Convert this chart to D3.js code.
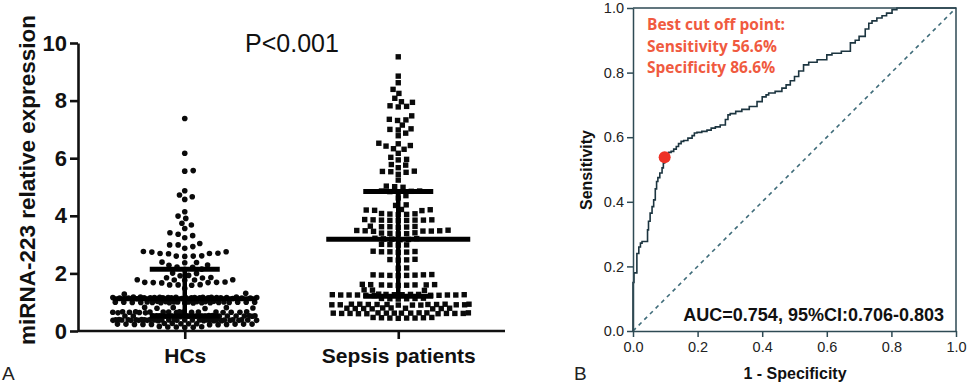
<!DOCTYPE html>
<html>
<head>
<meta charset="utf-8">
<script src="https://cdn.jsdelivr.net/npm/d3@7"></script>
<style>
  body { margin: 0; background: #fff; }
  svg { display: block; font-family: "Liberation Sans", Arial, sans-serif; }
</style>
</head>
<body>
<div id="root"></div>
<script>
// ---- panel A data ----
const groups = ["HCs", "Sepsis patients"];
const yTicks = [0, 2, 4, 6, 8, 10];

const hcValues = [
  7.38, 6.17, 5.57, 5.55, 4.87, 4.72, 4.66, 4.57, 4.14, 3.99, 3.91, 3.74, 3.68, 3.56,
  3.41, 3.36, 3.31, 3.24, 3.04, 2.99, 2.93, 2.99, 2.87,
  2.75, 2.76, 2.74, 2.69, 2.70, 2.68, 2.69, 2.60, 2.61, 2.59, 2.60,
  2.38, 2.39, 2.37, 2.29, 2.28, 2.21, 2.22, 2.14, 2.15, 2.00, 2.01, 1.92, 1.93, 1.85, 1.86, 1.84,
  1.77, 1.78, 1.76, 1.77, 1.78, 1.68, 1.69, 1.67, 1.68, 1.70, 1.69, 1.60, 1.61, 1.59, 1.60,
  1.48, 1.31, 1.28,
  1.16, 1.15, 1.17, 1.14, 1.16, 1.15, 1.18, 1.13, 1.16, 1.15, 1.17, 1.14, 1.16, 1.15, 1.12,
  1.18, 1.16, 1.15, 1.17, 1.14, 1.16, 1.15, 1.13, 1.17, 1.16, 1.15, 1.14, 1.18, 1.15, 1.16,
  1.01, 0.99, 1.02, 0.98, 1.00, 1.01, 0.97, 1.03, 0.99, 1.00, 1.02, 0.98, 1.01,
  0.99, 1.00, 1.02, 0.98, 1.01, 0.97, 1.00, 0.99, 1.03, 1.01, 0.98, 1.00, 0.99,
  0.81, 0.79, 0.82, 0.80, 0.78, 0.81,
  0.66, 0.65, 0.67, 0.64, 0.66, 0.65, 0.63, 0.67, 0.66, 0.64,
  0.65, 0.66, 0.67, 0.64, 0.65, 0.66, 0.63, 0.65, 0.67, 0.66,
  0.53, 0.52, 0.51, 0.53, 0.52, 0.54, 0.51, 0.52, 0.53, 0.52, 0.50,
  0.53, 0.52, 0.51, 0.54, 0.52, 0.53, 0.51, 0.52, 0.53, 0.52, 0.51,
  0.38, 0.37, 0.39, 0.36, 0.38, 0.40, 0.37, 0.38, 0.39, 0.36, 0.38, 0.37,
  0.39, 0.38, 0.40, 0.37, 0.38, 0.36, 0.39, 0.38, 0.37, 0.40, 0.38, 0.39,
  0.37, 0.38, 0.36, 0.39, 0.38, 0.37, 0.40, 0.38, 0.39, 0.37,
  0.24, 0.23, 0.25, 0.22, 0.24, 0.26, 0.23, 0.24, 0.25, 0.22, 0.24, 0.23, 0.25, 0.24, 0.26, 0.23,
  0.14, 0.13, 0.15, 0.12, 0.14, 0.16
];

const sepsisValues = [
  9.52, 8.85, 8.62, 8.39, 8.25, 8.08, 7.94, 7.96, 7.80, 7.82, 7.78,
  7.47, 7.33, 7.35, 7.31, 7.15, 7.00, 7.02, 6.98, 6.87, 6.78,
  6.52, 6.50, 6.42, 6.44, 6.31, 6.33, 6.17, 6.03, 5.94, 5.96,
  5.76, 5.78, 5.67, 5.53, 5.55, 5.51, 5.54, 5.44, 5.24,
  5.01, 5.03, 4.99, 4.86, 4.84, 4.85, 4.83, 4.86, 4.70, 4.62, 4.38, 4.36,
  4.20, 4.21, 4.19, 4.22, 4.18, 4.06, 4.07, 4.05, 4.08, 4.04,
  3.85, 3.86, 3.84, 3.87, 3.83, 3.85, 3.86, 3.84, 3.85,
  3.62, 3.63, 3.61, 3.64, 3.60, 3.62,
  3.48, 3.49, 3.47, 3.50, 3.46, 3.48, 3.47, 3.39, 3.40, 3.38, 3.41, 3.37,
  3.20, 3.18, 3.21, 3.19, 3.22, 3.17,
  2.99, 3.00, 2.98, 3.01, 2.75, 2.76, 2.74, 2.77, 2.73, 2.75,
  2.47, 2.48, 2.46, 2.49, 2.18, 2.19,
  1.94, 1.95, 1.93, 1.96, 1.92, 1.94, 1.95, 1.93,
  1.60, 1.61, 1.59, 1.62, 1.58, 1.60, 1.61, 1.59, 1.60,
  1.42, 1.43, 1.41,
  1.26, 1.25, 1.27, 1.24, 1.26, 1.25, 1.28, 1.23, 1.26, 1.25, 1.27, 1.24, 1.26, 1.25, 1.27, 1.24, 1.25,
  1.12, 1.13, 1.11, 1.14, 1.12, 1.13,
  0.92, 0.91, 0.93, 0.90, 0.92, 0.91, 0.93, 0.90, 0.92, 0.91, 0.93, 0.90, 0.92, 0.91, 0.93, 0.92,
  0.79, 0.78, 0.80, 0.77, 0.79, 0.78, 0.80, 0.77, 0.79, 0.78,
  0.62, 0.61, 0.63, 0.60, 0.62, 0.61, 0.63, 0.60, 0.62, 0.61, 0.63, 0.60, 0.62, 0.61, 0.63, 0.62, 0.61,
  0.46, 0.45, 0.47, 0.44, 0.46, 0.45, 0.47, 0.45
];

// median and interquartile range per group
const medians = [1.12, 3.19];
const q1s = [0.52, 1.21];
const q3s = [2.14, 4.84];

// ---- panel B data ----
const rocTicks = [0, 0.2, 0.4, 0.6, 0.8, 1.0];
const rocCurve = [
  [0, 0], [0, 0.065], [0.003, 0.15], [0.006, 0.18], [0.012, 0.18], [0.012, 0.21], [0.018, 0.24],
  [0.023, 0.26], [0.028, 0.272], [0.031, 0.277], [0.045, 0.277], [0.045, 0.3], [0.048, 0.313],
  [0.053, 0.34], [0.059, 0.365], [0.064, 0.385], [0.069, 0.406], [0.073, 0.44], [0.077, 0.463],
  [0.083, 0.475], [0.09, 0.489], [0.094, 0.505], [0.098, 0.52], [0.103, 0.54], [0.11, 0.548],
  [0.118, 0.553], [0.126, 0.556], [0.134, 0.563], [0.141, 0.571], [0.149, 0.58], [0.157, 0.587],
  [0.17, 0.59], [0.183, 0.597], [0.19, 0.605], [0.198, 0.613], [0.213, 0.615], [0.229, 0.618],
  [0.242, 0.622], [0.255, 0.628], [0.27, 0.632], [0.286, 0.638], [0.294, 0.655], [0.301, 0.669],
  [0.318, 0.673], [0.337, 0.68], [0.36, 0.686], [0.384, 0.695], [0.4, 0.71], [0.412, 0.725],
  [0.42, 0.731], [0.44, 0.737], [0.461, 0.742], [0.474, 0.752], [0.487, 0.762], [0.5, 0.775],
  [0.513, 0.788], [0.528, 0.805], [0.544, 0.824], [0.57, 0.832], [0.6, 0.84], [0.616, 0.855],
  [0.645, 0.86], [0.673, 0.866], [0.688, 0.892], [0.7, 0.9], [0.719, 0.912], [0.73, 0.935],
  [0.74, 0.953], [0.755, 0.96], [0.771, 0.969], [0.785, 0.976], [0.802, 0.984], [0.817, 0.995],
  [0.838, 1.0], [1.0, 1.0]
];
const cutPoint = [0.098, 0.538];
const cutLines = ["Best cut off point:", "Sensitivity 56.6%", "Specificity 86.6%"];

const svg = d3.select("#root").append("svg")
  .attr("width", 967)
  .attr("height", 385);

svg.append("rect").attr("width", 967).attr("height", 385).attr("fill", "#fff");

// ================= panel A =================
const x = d3.scalePoint().domain(groups).range([78, 505]).padding(0.5);
const y = d3.scaleLinear().domain([0, 10]).range([331, 43]);

// simple column-scatter layout: place each point at the smallest offset free of overlap
function swarm(values, dx0, dy0, half) {
  const pts = values.map(v => ({v: v, y: y(v)})).sort((a, b) => a.v - b.v);
  const placed = [];
  pts.forEach(p => {
    let d = dx0, px = null;
    while (px === null) {
      const near = placed.filter(q => Math.abs(q.y - p.y) < dy0);
      const cands = [0];
      near.forEach(q => {
        const off = d * Math.sqrt(1 - Math.pow((q.y - p.y) / dy0, 2));
        cands.push(q.x + off, q.x - off);
      });
      cands.sort((a, b) => Math.abs(a) - Math.abs(b));
      for (const c of cands) {
        if (Math.abs(c) > half + 0.01) continue;
        const ok = near.every(q => Math.pow((q.x - c) / d, 2) + Math.pow((q.y - p.y) / dy0, 2) >= 0.999);
        if (ok) { px = c; break; }
      }
      d *= 0.85;
    }
    p.x = px;
    placed.push(p);
  });
  return pts;
}

const gA = svg.append("g");

const hcPts = swarm(hcValues, 8.5, 5.5, 72);
const sepPts = swarm(sepsisValues, 8.4, 5.6, 71);

gA.selectAll(".hc")
  .data(hcPts)
  .enter().append("circle")
    .attr("class", "hc")
    .attr("cx", d => x("HCs") + d.x)
    .attr("cy", d => d.y)
    .attr("r", 2.8)
    .attr("fill", "#0a0a0a");

gA.selectAll(".sep")
  .data(sepPts)
  .enter().append("rect")
    .attr("class", "sep")
    .attr("x", d => x("Sepsis patients") + d.x - 2.7)
    .attr("y", d => d.y - 2.7)
    .attr("width", 5.4)
    .attr("height", 5.4)
    .attr("fill", "#0a0a0a");

// median with interquartile range
groups.forEach((g, i) => {
  const cx = x(g);
  gA.append("line")
    .attr("x1", cx).attr("x2", cx)
    .attr("y1", y(q1s[i])).attr("y2", y(q3s[i]))
    .attr("stroke", "#000").attr("stroke-width", 4.5);
  gA.append("line")
    .attr("x1", cx - 72).attr("x2", cx + 72)
    .attr("y1", y(medians[i])).attr("y2", y(medians[i]))
    .attr("stroke", "#000").attr("stroke-width", 5);
  [q1s[i], q3s[i]].forEach(v => {
    gA.append("line")
      .attr("x1", cx - 35).attr("x2", cx + 35)
      .attr("y1", y(v)).attr("y2", y(v))
      .attr("stroke", "#000").attr("stroke-width", 5);
  });
});

const axA = gA.append("g")
  .attr("transform", "translate(78,0)")
  .call(d3.axisLeft(y).tickValues(yTicks).tickSize(8).tickSizeOuter(0).tickPadding(3));

const axB = gA.append("g")
  .attr("transform", "translate(0,331)")
  .call(d3.axisBottom(x).tickSize(8).tickSizeOuter(0).tickPadding(9));

[axA, axB].forEach(a => {
  a.attr("font-family", "'Liberation Sans', Arial, sans-serif").attr("font-weight", "bold");
  a.select(".domain").attr("stroke", "#111").attr("stroke-width", 2.6);
  a.selectAll(".tick line").attr("stroke", "#111").attr("stroke-width", 2.6);
  a.selectAll("text").attr("fill", "#111").attr("font-weight", "bold");
});
axA.attr("font-size", 22);
axB.attr("font-size", 21);
axB.select(".domain").attr("d", "M78,0H505");

gA.append("text")
  .attr("transform", "translate(35,180) rotate(-90)")
  .attr("text-anchor", "middle")
  .style("font-size", "22.5px")
  .style("font-weight", "bold")
  .attr("fill", "#111")
  .text("miRNA-223 relative expression");

gA.append("text")
  .attr("x", 292).attr("y", 52)
  .attr("text-anchor", "middle")
  .style("font-size", "25px")
  .attr("fill", "#111")
  .text("P<0.001");

gA.append("text")
  .attr("x", 2).attr("y", 380)
  .style("font-size", "19px")
  .attr("fill", "#222")
  .text("A");

// ================= panel B =================
const xr = d3.scaleLinear().domain([0, 1]).range([633, 956]);
const yr = d3.scaleLinear().domain([0, 1]).range([331, 8]);
const frameColor = "#2e4a54";

const gB = svg.append("g");

gB.append("line")
  .attr("x1", xr(0)).attr("y1", yr(0))
  .attr("x2", xr(1)).attr("y2", yr(1))
  .attr("stroke", "#3f6c7a")
  .attr("stroke-width", 1.6)
  .attr("stroke-dasharray", "4,4");

gB.append("path")
  .datum(rocCurve)
  .attr("fill", "none")
  .attr("stroke", "#1c3540")
  .attr("stroke-width", 1.6)
  .attr("d", d3.line().x(d => xr(d[0])).y(d => yr(d[1])).curve(d3.curveStepBefore));

// top and right frame
gB.append("path")
  .attr("d", "M" + xr(0) + "," + yr(1) + "H" + xr(1) + "V" + yr(0))
  .attr("fill", "none")
  .attr("stroke", frameColor)
  .attr("stroke-width", 1.5);

const rAxL = gB.append("g")
  .attr("transform", "translate(" + xr(0) + ",0)")
  .call(d3.axisLeft(yr).tickValues(rocTicks).tickFormat(d3.format(".1f")).tickSize(6).tickSizeOuter(0).tickPadding(3));
const rAxB = gB.append("g")
  .attr("transform", "translate(0," + yr(0) + ")")
  .call(d3.axisBottom(xr).tickValues(rocTicks).tickFormat(d3.format(".1f")).tickSize(6).tickSizeOuter(0).tickPadding(5));

[rAxL, rAxB].forEach(a => {
  a.attr("font-family", "'Liberation Sans', Arial, sans-serif").attr("font-size", 14.5);
  a.select(".domain").attr("stroke", frameColor).attr("stroke-width", 1.5);
  a.selectAll(".tick line").attr("stroke", frameColor).attr("stroke-width", 1.5);
  a.selectAll("text").attr("fill", "#222");
});

gB.append("circle")
  .attr("cx", xr(cutPoint[0]))
  .attr("cy", yr(cutPoint[1]))
  .attr("r", 6)
  .attr("fill", "#ee3226");

gB.selectAll(".cut")
  .data(cutLines)
  .enter().append("text")
    .attr("class", "cut")
    .attr("x", 647)
    .attr("y", (d, i) => 30 + i * 21.7)
    .style("font-family", "'Open Sans', sans-serif")
    .style("font-size", "15.5px")
    .style("font-weight", "bold")
    .attr("fill", "#f05a40")
    .text(d => d);

gB.append("text")
  .attr("x", 944).attr("y", 321)
  .attr("text-anchor", "end")
  .style("font-size", "18px")
  .style("font-weight", "bold")
  .attr("fill", "#111")
  .text("AUC=0.754, 95%CI:0.706-0.803");

gB.append("text")
  .attr("transform", "translate(592,170) rotate(-90)")
  .attr("text-anchor", "middle")
  .style("font-size", "16px")
  .style("font-weight", "bold")
  .attr("fill", "#111")
  .text("Sensitivity");

gB.append("text")
  .attr("x", 795).attr("y", 379)
  .attr("text-anchor", "middle")
  .style("font-size", "16px")
  .style("font-weight", "bold")
  .attr("fill", "#111")
  .text("1 - Specificity");

gB.append("text")
  .attr("x", 574).attr("y", 380)
  .style("font-size", "19px")
  .attr("fill", "#222")
  .text("B");
</script>
</body>
</html>
